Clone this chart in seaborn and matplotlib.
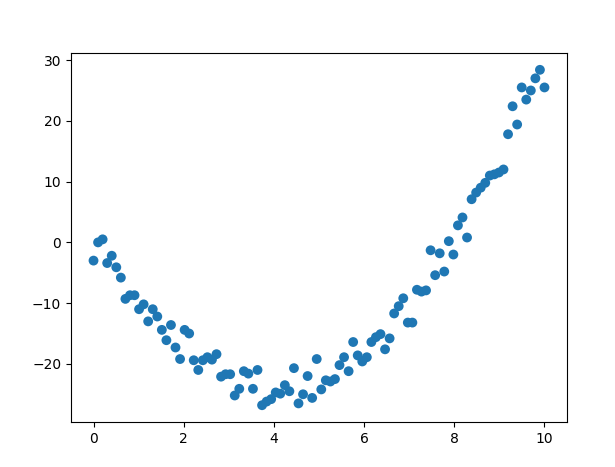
import numpy as np
import matplotlib
matplotlib.use("Agg")
import matplotlib.pyplot as plt
import seaborn as sns

# x positions: 100 evenly spaced samples from 0 to 10
x_start, x_stop, n_points = 0, 10, 100

# y values
y_values = [
    -3.0, 0.0, 0.5, -3.4, -2.2, -4.1, -5.8, -9.3, -8.7, -8.7,
    -11.0, -10.2, -13.0, -11.0, -12.2, -14.4, -16.1, -13.6, -17.3, -19.2,
    -14.4, -15.0, -19.4, -21.0, -19.4, -18.9, -19.3, -18.4, -22.1, -21.7,
    -21.7, -25.2, -24.1, -21.2, -21.6, -24.1, -21.0, -26.8, -26.2, -25.8,
    -24.7, -24.9, -23.5, -24.5, -20.7, -26.5, -25.0, -22.0, -25.6, -19.2,
    -24.2, -22.7, -22.9, -22.5, -20.2, -18.9, -21.2, -16.4, -18.6, -19.6,
    -18.9, -16.4, -15.6, -15.1, -17.6, -15.8, -11.7, -10.5, -9.2, -13.2,
    -13.2, -7.8, -8.1, -7.9, -1.3, -5.4, -1.8, -4.8, 0.2, -2.0,
    2.8, 4.1, 0.8, 7.1, 8.2, 9.0, 9.8, 11.0, 11.2, 11.5,
    12.0, 17.8, 22.4, 19.4, 25.5, 23.5, 25.0, 27.0, 28.4, 25.5,
]

x_values = np.linspace(x_start, x_stop, n_points)

fig = plt.figure(figsize=(6.15, 4.67), dpi=100)
ax = fig.add_axes([0.1154, 0.0964, 0.8066, 0.79])
sns.scatterplot(x=x_values, y=y_values, ax=ax, s=50, color="#1f77b4",
                linewidth=0, edgecolor="none", alpha=1)
ax.set_yticks([-20, -10, 0, 10, 20, 30])
fig.savefig("out.png", dpi=100)
